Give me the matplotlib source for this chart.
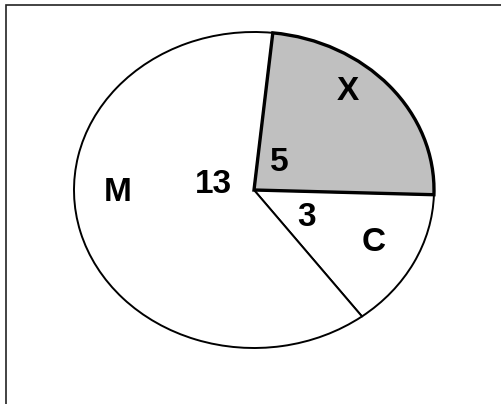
import matplotlib
matplotlib.use("Agg")
import matplotlib.pyplot as plt
from matplotlib.patches import Rectangle
import numpy as np

# Dados do gráfico
nomes = ["X", "C", "M"]
valores = [5, 3, 13]
cores = ["#c0c0c0", "white", "white"]

W, H = 502, 404
CX, CY = 254, 190          # centro da elipse (px)
RX, RY = 180, 158          # semi-eixos (px)

# posição dos rótulos (ângulo em graus, raio relativo)
POS_NOME = {"X": (50, 0.81), "C": (-26.5, 0.74), "M": (181.4, 0.76)}
POS_VALOR = {"X": (51, 0.22), "C": (-30.6, 0.336), "M": (172, 0.23)}

fig = plt.figure(figsize=(W / 100, H / 100), dpi=100)
ax = fig.add_axes([0, 0, 1, 1])

wedges, _ = ax.pie(valores, colors=cores, startangle=84, counterclock=False,
                   wedgeprops=dict(edgecolor="black", linewidth=1.4))
wedges[0].set_linewidth(2.4)
wedges[0].set_zorder(3)

ax.set_aspect("auto")
ax.set_xlim(-CX / RX, (W - CX) / RX)
ax.set_ylim(-(H - CY) / RY, CY / RY)
ax.axis("off")

fonte = dict(fontsize=24, fontweight="bold", family="Liberation Sans",
             ha="center", va="center", zorder=5)
for nome, v in zip(nomes, valores):
    ang, r = POS_NOME[nome]
    ax.text(r * np.cos(np.radians(ang)), r * np.sin(np.radians(ang)), nome, **fonte)
    ang, r = POS_VALOR[nome]
    ax.text(r * np.cos(np.radians(ang)), r * np.sin(np.radians(ang)), str(v), **fonte)

# moldura (continua além das bordas direita e inferior)
fig.patches.append(Rectangle((5.5 / W, -0.1), 1.2, 1 - 4.5 / H + 0.1,
                             transform=fig.transFigure, fill=False,
                             edgecolor="#222222", linewidth=1.2))

fig.savefig("out.png", dpi=100, facecolor="white")
